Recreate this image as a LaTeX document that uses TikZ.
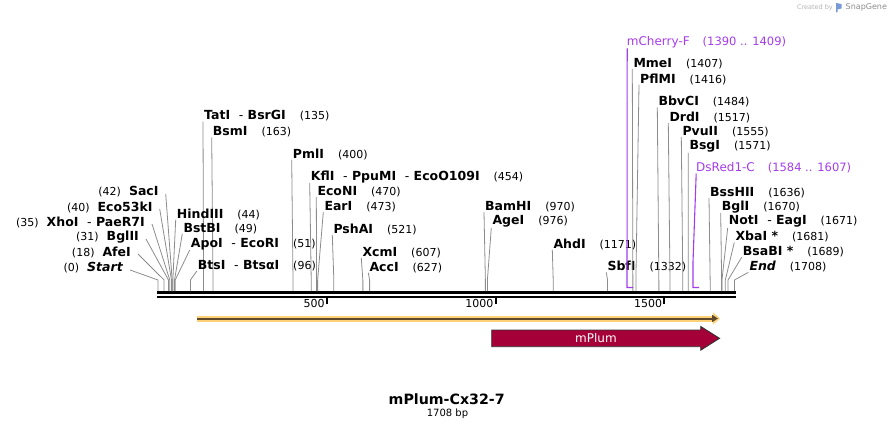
\documentclass[tikz,border=0pt]{standalone}
\usepackage{fontspec}
\setmainfont{DejaVu Sans}
\usepackage{tikz}
\usetikzlibrary{arrows.meta}
\definecolor{sitegray}{HTML}{8C8C8C}
\definecolor{primerviolet}{RGB}{165,60,235}
\definecolor{plumred}{RGB}{165,0,56}
\definecolor{orfyellow}{HTML}{FFD27A}
\definecolor{orfbrown}{HTML}{5E4A2A}
\definecolor{credgray}{HTML}{B4B4B4}
\newcommand\enzname[1]{{\fontsize{12.5}{14}\selectfont\bfseries #1}}
\newcommand\enzlab[2]{\enzname{#1}\hspace{14pt}(#2)}
\newcommand\enzlabl[2]{(#1)\hspace{8pt}\enzname{#2}}
\tikzset{
  every node/.style={
    font=\fontsize{11}{13}\selectfont,
    inner sep=0pt
  },
  enzright/.style={anchor=west},
  enzleft/.style={anchor=east},
  siteline/.style={draw=sitegray, line width=0.8pt},
  primerlab/.style={
    anchor=west,
    text=primerviolet,
    font=\fontsize{11.5}{13}\selectfont
  },
  primerline/.style={draw=primerviolet, line width=1.1pt},
  backbone/.style={line width=2.8pt},
  ticks/.style={line width=2pt},
  orfband/.style={line width=6pt, draw=orfyellow, -{Triangle[length=7pt,width=12pt]}},
  orfline/.style={line width=2pt, draw=orfbrown, -{Triangle[length=6pt,width=7pt]}},
  feature/.style={fill=plumred, draw=black!80, line width=0.9pt}
}

\begin{document}
\begin{tikzpicture}[x=1pt,y=-1pt]
  \useasboundingbox (0,0) rectangle (893,430);
  % backbone and scale
  \draw[backbone] (157,292.5) -- (736,292.5);
  \draw[backbone, line width=2.5pt] (157,296.8) -- (736,296.8);
  \foreach \tk in {500,1000,1500} {
    \pgfmathsetmacro\tx{158+0.3375*\tk}
    \draw[ticks] (\tx,297) -- (\tx,304);
    \node[anchor=east] (tick\tk) at (\tx-2,303.5) {\tk};
  }
  % sites labelled to the right
  \foreach \sname/\lx/\ly/\bp/\ltext in {
    TatI/204/116/135/{\enzlab{TatI\ \ {\mdseries -}\ BsrGI}{135}},
    BsmI/212.7/132/163/{\enzlab{BsmI}{163}},
    PmlI/292.7/154/400/{\enzlab{PmlI}{400}},
    KflI/310.7/176.7/454/{\enzlab{KflI\ \ {\mdseries -}\ PpuMI\ \ {\mdseries -}\ EcoO109I}{454}},
    EcoNI/317.3/191.7/470/{\enzlab{EcoNI}{470}},
    EarI/324.3/206.7/473/{\enzlab{EarI}{473}},
    PshAI/333.3/229.3/521/{\enzlab{PshAI}{521}},
    XcmI/362.3/252.7/607/{\enzlab{XcmI}{607}},
    AccI/369.3/267.3/627/{\enzlab{AccI}{627}},
    BamHI/485/206.7/970/{\enzlab{BamHI}{970}},
    AgeI/492.3/221.7/976/{\enzlab{AgeI}{976}},
    AhdI/553.3/244/1171/{\enzlab{AhdI}{1171}},
    SbfI/607.3/266.7/1332/{\enzlab{SbfI}{1332}},
    MmeI/633.3/63.3/1407/{\enzlab{MmeI}{1407}},
    PflMI/640/79/1416/{\enzlab{PflMI}{1416}},
    BbvCI/658.3/101.7/1484/{\enzlab{BbvCI}{1484}},
    DrdI/669.3/117.3/1517/{\enzlab{DrdI}{1517}},
    PvuII/682.3/131.7/1555/{\enzlab{PvuII}{1555}},
    BsgI/689.3/146.7/1571/{\enzlab{BsgI}{1571}},
    BssHII/710/192.3/1636/{\enzlab{BssHII}{1636}},
    BglI/721.7/206.7/1670/{\enzlab{BglI}{1670}},
    NotI/728.7/221.7/1671/{\enzlab{NotI\ \ {\mdseries -}\ EagI}{1671}},
    XbaI/735.3/236.7/1681/{\enzlab{XbaI *}{1681}},
    BsaBI/742.7/251.7/1689/{\enzlab{BsaBI *}{1689}},
    End/749.3/266.7/1708/{\enzlab{\itshape End}{1708}},
    HindIII/176.7/214/44/{\enzlab{HindIII}{44}},
    BstBI/183.3/228.3/49/{\enzlab{BstBI}{49}},
    ApoI/190.7/244/51/{\enzlab{ApoI\ \ {\mdseries -}\ EcoRI}{51}},
    BtsI/197.7/265.7/96/{\enzlab{BtsI\ \ {\mdseries -}\ BtsαI}{96}}
  } {
    \pgfmathsetmacro\sx{158+0.3375*\bp}
    \node[enzright] (\sname) at (\lx,\ly) {\ltext};
    \coordinate (\sname-k) at (\sx,280);
    \coordinate (\sname-s) at (\sx,291);
    \draw[siteline] ([xshift=-1pt]\sname.south west) -- (\sname-k) -- (\sname-s);
  }
  % sites labelled to the left
  \foreach \sname/\lx/\ly/\bp/\ltext in {
    SacI/158.7/192/42/{\enzlabl{42}{SacI}},
    Eco53kI/152.7/207/40/{\enzlabl{40}{Eco53kI}},
    XhoI/145/222/35/{\enzlabl{35}{XhoI\ \ {\mdseries -}\ PaeR7I}},
    BglII/139/237/31/{\enzlabl{31}{BglII}},
    AfeI/131/252/18/{\enzlabl{18}{AfeI}},
    Start/123/268/0/{\enzlabl{0}{\itshape Start}}
  } {
    \pgfmathsetmacro\sx{158+0.3375*\bp}
    \node[enzleft] (\sname) at (\lx,\ly) {\ltext};
    \coordinate (\sname-k) at (\sx,280);
    \coordinate (\sname-s) at (\sx,291);
    \draw[siteline] ([xshift=7pt,yshift=-2pt]\sname.east) -- (\sname-k) -- (\sname-s);
  }
  % primers
  \node[primerlab] (mcherry) at (626.7,42.3) {{\fontsize{12}{14}\selectfont mCherry-F}\hspace{13pt}(1390 .. 1409)};
  \coordinate (mcherry-k) at (627,287.5);
  \coordinate (mcherry-e) at (633,287.5);
  \draw[primerline] ([xshift=0.5pt]mcherry.south west) -- (mcherry-k) -- (mcherry-e);
  \node[primerlab] (dsred) at (696,168) {{\fontsize{12}{14}\selectfont DsRed1-C}\hspace{13pt}(1584 .. 1607)};
  \coordinate (dsred-b) at (693,262);
  \coordinate (dsred-k) at (693,287.5);
  \coordinate (dsred-e) at (699,287.5);
  \draw[primerline] ([xshift=0.2pt]dsred.south west) -- (dsred-b) -- (dsred-k) -- (dsred-e);
  % open reading frame
  \coordinate (orf-a) at (197,318.5);
  \coordinate (orf-b) at (720,318.5);
  \draw[orfband] (orf-a) -- (orf-b);
  \draw[orfline] (orf-a) -- ([xshift=-2pt]orf-b);
  % mPlum feature
  \draw[feature] (491.7,330) -- (700.7,330) -- (700.7,326.5) -- (719.5,338.3)
    -- (700.7,350.2) -- (700.7,346.7) -- (491.7,346.7) -- cycle;
  \node[text=white, font=\fontsize{12}{14}\selectfont] (plum) at (596,338.3) {mPlum};
  % title
  \node[font=\fontsize{14.2}{16}\selectfont\bfseries] (title) at (446.7,399.5) {mPlum-Cx32-7};
  \node[font=\fontsize{10}{12}\selectfont] (size) at (447.5,414) {1708 bp};
  % credit
  \node[anchor=east, text=credgray, font=\fontsize{6.5}{8}\selectfont] (credit) at (833,7.3) {Created by};
  \fill[cyan!45!blue!55] (836,3) -- (841.5,4) -- (841.5,8.5) -- (837.5,9.5) -- (837.5,12) -- (836,12.5) -- cycle;
  \node[anchor=west, text=gray!90, font=\fontsize{8}{9}\selectfont] (snapgene) at (845.5,7.3) {SnapGene};
\end{tikzpicture}
\end{document}
